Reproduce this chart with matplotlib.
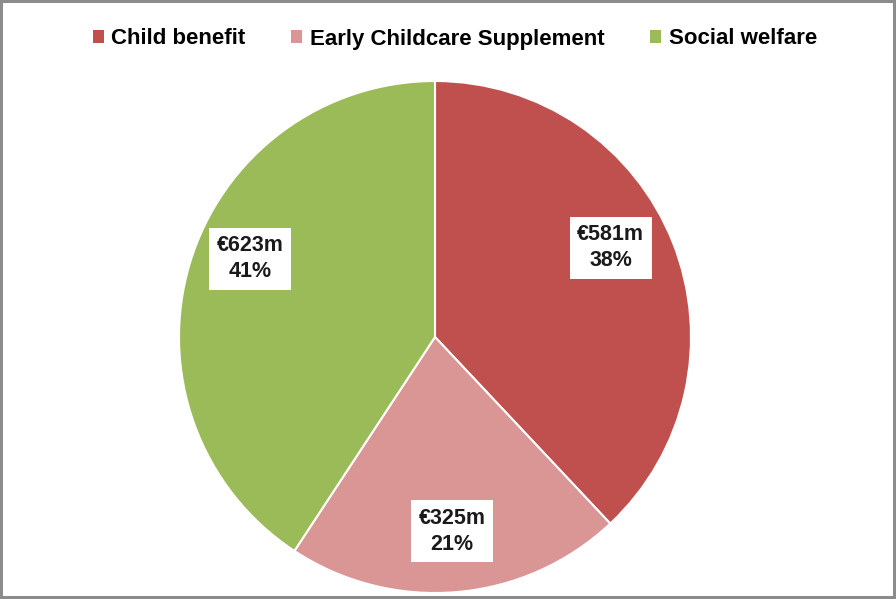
import matplotlib.pyplot as plt
from matplotlib.patches import Patch

plt.rcParams['font.family'] = ['Liberation Sans', 'DejaVu Sans']

categories = ['Child benefit', 'Early Childcare Supplement', 'Social welfare']
spend_m = [581, 325, 623]
colours = ['#C0504D', '#D99694', '#9BBB59']

fig = plt.figure(figsize=(8.96, 5.99), dpi=100)
fig.patch.set_edgecolor('#8c8c8c')
fig.patch.set_linewidth(3)

# square axes so the pie sits right of centre, below the legend
W, H = 896, 599
cx, cy, r = 435, 337, 256
ax = fig.add_axes([(cx - r) / W, (H - cy - r) / H, 2 * r / W, 2 * r / H])

total = sum(spend_m)


def fmt(pct):
    v = round(pct * total / 100)
    return f'€{v}m\n{pct:.0f}%'


wedges, texts, autotexts = ax.pie(
    spend_m, colors=colours, startangle=90, counterclock=False,
    autopct=fmt, pctdistance=0.77,
    wedgeprops=dict(edgecolor='white', linewidth=1.5),
    textprops=dict(fontsize=15.5, fontweight='bold', color='#1a1a1a'))
for w in wedges:
    w.set_clip_on(False)

# small shifts so the upper labels sit a little higher in their slices
nudge = [(-0.03, 0.065), (0.0, 0.008), (0.015, 0.085)]
for t, (dx, dy) in zip(autotexts, nudge):
    x, y = t.get_position()
    t.set_position((x + dx, y + dy))
    t.set_linespacing(1.3)
    t.set_bbox(dict(facecolor='white', edgecolor='none', boxstyle='square,pad=0.35'))

ax.set_xlim(-1, 1)
ax.set_ylim(-1, 1)
ax.set_aspect('equal')

handles = [Patch(facecolor=c, edgecolor='none') for c in colours]
fig.legend(handles, categories, loc='center', bbox_to_anchor=(455 / W, 1 - 39 / H),
           ncol=3, frameon=False, handlelength=0.5, handleheight=0.5,
           handletextpad=0.35, columnspacing=2.05,
           prop=dict(size=16, weight='bold'))

fig.savefig('out.png', dpi=100)
